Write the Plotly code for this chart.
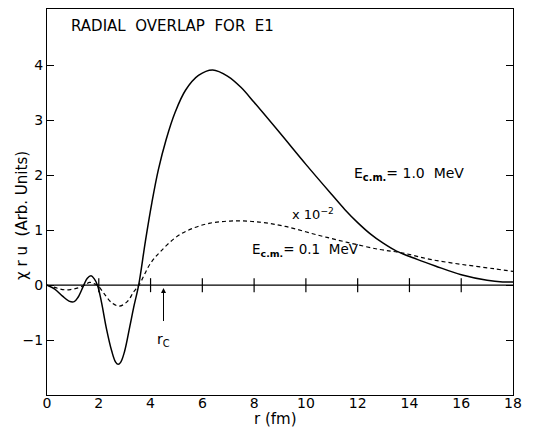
import plotly.graph_objects as go

# E_cm = 1.0 MeV (solid)
r_solid = [0, 0.3, 0.6, 0.85, 1.05, 1.2, 1.42, 1.55, 1.7, 1.82, 1.95, 2.1, 2.3, 2.5, 2.65, 2.75,
           2.85, 3.0, 3.2, 3.35, 3.54, 3.8, 4.05, 4.3, 4.6, 4.95, 5.35, 5.85, 6.4, 7.0, 7.5, 8.0,
           9.0, 10.0, 11.0, 11.5, 12.0, 12.5, 13.0, 13.5, 14.3, 15.0, 16.0, 17.0, 17.6, 18.0]
v_solid = [0, -0.07, -0.2, -0.29, -0.3, -0.22, 0, 0.12, 0.17, 0.12, 0, -0.3, -0.8, -1.2, -1.4, -1.44,
           -1.4, -1.2, -0.75, -0.4, 0, 0.8, 1.5, 2.1, 2.65, 3.15, 3.55, 3.82, 3.92, 3.8, 3.6, 3.33,
           2.77, 2.2, 1.65, 1.38, 1.14, 0.93, 0.76, 0.62, 0.47, 0.35, 0.19, 0.09, 0.06, 0.06]

# E_cm = 0.1 MeV (dashed, x10^-2)
r_dash = [0, 0.3, 0.6, 0.9, 1.2, 1.45, 1.65, 1.8, 1.95, 2.2, 2.5, 2.8, 3.1, 3.35, 3.55, 4.0, 4.4,
          5.0, 5.6, 6.3, 7.2, 8.2, 9.2, 10.4, 11.6, 12.85, 13.7, 14.8, 16.0, 17.25, 18.0]
v_dash = [0, -0.04, -0.08, -0.08, -0.05, 0, 0.05, 0.03, 0, -0.15, -0.32, -0.38, -0.3, -0.12, 0, 0.4, 0.62,
          0.88, 1.03, 1.13, 1.17, 1.15, 1.07, 0.92, 0.78, 0.65, 0.59, 0.47, 0.38, 0.3, 0.25]

x_ticks = [0, 2, 4, 6, 8, 10, 12, 14, 16, 18]
y_ticks = [-1, 0, 1, 2, 3, 4]
zero_line_ticks = [2, 4, 6, 8, 10, 12, 14, 16]
r_c = 4.5

FONT = "DejaVu Sans"

fig = go.Figure()
fig.add_trace(go.Scatter(x=r_solid, y=v_solid, mode="lines",
                         line=dict(color="black", width=1.5, shape="spline", smoothing=1.0),
                         showlegend=False, hoverinfo="skip"))
fig.add_trace(go.Scatter(x=r_dash, y=v_dash, mode="lines",
                         line=dict(color="black", width=1.2, dash="4px,3px", shape="spline", smoothing=1.0),
                         showlegend=False, hoverinfo="skip"))
# zero line and its tick marks
fig.add_shape(type="line", x0=0, x1=18, y0=0, y1=0, line=dict(color="black", width=1.3))
fig.add_trace(go.Scatter(x=zero_line_ticks, y=[0] * len(zero_line_ticks), mode="markers",
                         marker=dict(symbol="line-ns", size=10, line=dict(color="black", width=1.2)),
                         showlegend=False, hoverinfo="skip"))

# r_c arrow
fig.add_annotation(x=r_c, y=-0.05, ax=r_c, ay=-0.68, xref="x", yref="y", axref="x", ayref="y",
                   showarrow=True, arrowhead=2, arrowsize=1, arrowwidth=1, arrowcolor="black", text="")
fig.add_annotation(x=r_c, y=-1.0, xref="x", yref="y", text="r<sub>C</sub>", showarrow=False,
                   font=dict(family=FONT, size=14, color="black"))

fig.add_annotation(x=0.85, y=4.72, xref="x", yref="y", xanchor="left", text="RADIAL  OVERLAP  FOR  E1",
                   showarrow=False, font=dict(family=FONT, size=15, color="black"))
fig.add_annotation(x=11.8, y=2.02, xref="x", yref="y", xanchor="left",
                   text="E<sub><b>c.m.</b></sub>= 1.0  MeV", showarrow=False,
                   font=dict(family=FONT, size=14, color="black"))
fig.add_annotation(x=9.4, y=1.29, xref="x", yref="y", xanchor="left",
                   text="x 10<sup>−2</sup>", showarrow=False,
                   font=dict(family=FONT, size=13, color="black"))
fig.add_annotation(x=7.85, y=0.65, xref="x", yref="y", xanchor="left",
                   text="E<sub><b>c.m.</b></sub>= 0.1  MeV", showarrow=False,
                   font=dict(family=FONT, size=13.5, color="black"))
fig.add_annotation(x=-0.055, y=0.465, xref="paper", yref="paper", xanchor="center", yanchor="middle",
                   text="χ r u  (Arb. Units)",
                   textangle=-90, showarrow=False, font=dict(family=FONT, size=15, color="black"))
fig.add_annotation(x=0.49, y=-0.063, xref="paper", yref="paper", text="r (fm)", yanchor="middle",
                   showarrow=False, font=dict(family=FONT, size=15, color="black"))

fig.update_xaxes(range=[0, 18], tickvals=x_ticks, ticks="", showline=True, mirror=True,
                 linecolor="black", linewidth=1.2, showgrid=False, zeroline=False, automargin=False,
                 ticklabelstandoff=-5,
                 tickfont=dict(family=FONT, size=14, color="black"))
fig.update_yaxes(range=[-2, 5.03], tickvals=y_ticks, ticks="inside", ticklen=7, tickwidth=1,
                 tickcolor="black", showline=True, mirror="ticks", linecolor="black", linewidth=1.2,
                 showgrid=False, zeroline=False, automargin=False,
                 tickfont=dict(family=FONT, size=14, color="black"))

# page body has an 8px margin, so the figure is sized and placed to compensate
fig.update_layout(width=541, height=422, margin=dict(l=39, r=36, t=1, b=35),
                  plot_bgcolor="white", paper_bgcolor="white", showlegend=False)

fig.write_html("out.html")
